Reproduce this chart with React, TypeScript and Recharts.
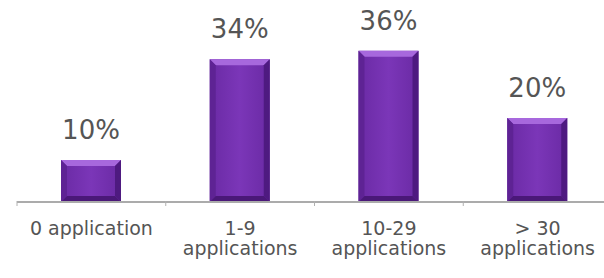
import { BarChart, Bar, XAxis, YAxis, LabelList } from "recharts";

const categories = ["0 application", "1-9 applications", "10-29 applications", "> 30 applications"];
const shares = [10, 34, 36, 20];
const tickLines = [["0 application"], ["1-9", "applications"], ["10-29", "applications"], ["> 30", "applications"]];

const data = categories.map((name, i) => ({ name, share: shares[i] }));

const FONT = "'DejaVu Sans', sans-serif";

function BevelBar(props: any) {
  const { x, y, width, height } = props;
  const b = 6;
  return (
    <g>
      <rect x={x} y={y} width={width} height={height} fill="url(#barFill)" />
      <polygon
        points={`${x},${y} ${x + width},${y} ${x + width - b},${y + b} ${x + b},${y + b}`}
        fill="#a768dd"
      />
      <polygon
        points={`${x},${y} ${x + b},${y + b} ${x + b},${y + height - b} ${x},${y + height}`}
        fill="#5e2394"
      />
      <polygon
        points={`${x + width},${y} ${x + width - b},${y + b} ${x + width - b},${y + height - b} ${x + width},${y + height}`}
        fill="#4e1a80"
      />
      <polygon
        points={`${x},${y + height} ${x + b},${y + height - b} ${x + width - b},${y + height - b} ${x + width},${y + height}`}
        fill="#4a1878"
      />
    </g>
  );
}

function CategoryTick(props: any) {
  const { x, y, payload } = props;
  const lines = tickLines[payload.index] || [payload.value];
  const half = payload.offset || 0;
  return (
    <g>
      <line x1={x - half} x2={x - half} y1={y - 9} y2={y - 4} stroke="#b0b0b0" strokeWidth={1} />
      <text x={x} y={y} textAnchor="middle" fill="#555" fontSize={19} fontFamily={FONT}>
        {lines.map((t: string, i: number) => (
          <tspan key={i} x={x} dy={i === 0 ? 25 : 20}>
            {t}
          </tspan>
        ))}
      </text>
    </g>
  );
}

export default function App() {
  return (
    <div
      style={{
        position: "absolute",
        left: 0,
        top: 0,
        width: 604,
        height: 278,
        overflow: "hidden",
        background: "#fff",
      }}
    >
      <BarChart
        width={620}
        height={278}
        data={data}
        margin={{ top: 34, right: 8, bottom: 0, left: 17 }}
      >
        <defs>
          <linearGradient id="barFill" x1="0" y1="0" x2="1" y2="0">
            <stop offset="0%" stopColor="#6a2aa4" />
            <stop offset="50%" stopColor="#7b36b8" />
            <stop offset="100%" stopColor="#6a2aa4" />
          </linearGradient>
        </defs>
        <YAxis hide domain={[0, 40]} />
        <XAxis
          dataKey="name"
          height={76}
          axisLine={{ stroke: "#ababab", strokeWidth: 2 }}
          tickLine={false}
          tick={<CategoryTick />}
          interval={0}
        />
        <Bar dataKey="share" barSize={60} shape={<BevelBar />} isAnimationActive={false}>
          <LabelList
            dataKey="share"
            position="top"
            offset={21}
            formatter={(v: any) => `${v}%`}
            fill="#555"
            fontSize={26}
            fontFamily={FONT}
          />
        </Bar>
      </BarChart>
    </div>
  );
}
